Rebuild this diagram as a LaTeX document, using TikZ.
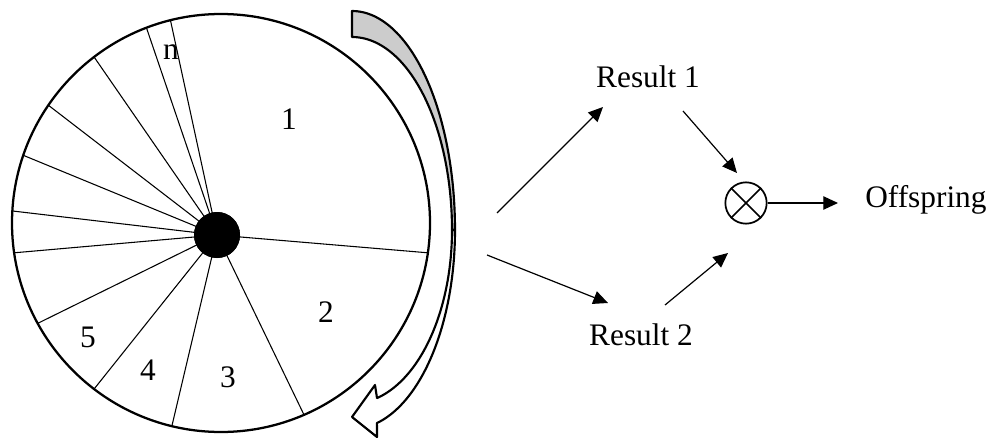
\documentclass[tikz,border=0pt]{standalone}
\usepackage{fontspec}
\setmainfont{Liberation Serif}
\usetikzlibrary{arrows.meta,calc}
\definecolor{bandgray}{RGB}{204,204,204}
\begin{document}
\begin{tikzpicture}[x=0.75pt,y=-0.75pt,
  lbl/.style={font=\fontsize{23.5}{28}\selectfont, inner sep=0pt, anchor=base},
  spoke/.style={line width=0.8pt},
  rim/.style={line width=1.7pt},
  band/.style={line width=1.6pt, line join=round},
  flow/.style={line width=0.9pt,-{Triangle[length=11pt,width=10pt]}},
]
\useasboundingbox (0,0) rectangle (994,438);
% wheel
\coordinate (wc) at (221,223);
\draw[rim] (wc) circle[radius=156.75pt];
\node[circle,fill=black,minimum size=34.5pt,inner sep=0pt] (hub) at (217,235) {};
\foreach \a in {-104,-110.9,-127.4,-145.7,-161.1,-176.7,171.8,151.3,127.4,103.6,66.6,8.2}
  \draw[spoke] (hub.center) -- ({221+209*cos(\a)},{223+209*sin(\a)});
\node[circle,fill=black,minimum size=34.5pt,inner sep=0pt] at (hub) {};
% labels in wheel
\node[lbl] (l1) at (289,130) {1};
\node[lbl] (l2) at (326,322) {2};
\node[lbl] (l3) at (228,387) {3};
\node[lbl] (l4) at (148,380) {4};
\node[lbl] (l5) at (88,347) {5};
\node[lbl] (ln) at (171,60) {n};
% curved arrow: back (gray) part
\filldraw[band, fill=bandgray]
  plot[domain=90:0,samples=60] ({352+103*cos(\x)},{230-219*sin(\x)})
  -- plot[domain=0:90,samples=60] ({352+100*cos(\x)},{230-193*sin(\x)}) -- cycle;
% curved arrow: front (white) part
\filldraw[band, fill=white]
  plot[domain=0:76,samples=60] ({352+103*cos(\x)},{230+199*sin(\x)})
  -- (377,437) -- (352,417) -- (375,385) -- (377,398)
  -- plot[domain=75.5:0,samples=60] ({352+100*cos(\x)},{230+173.6*sin(\x)}) -- cycle;
% right part
\node[lbl] (r1) at (648,88) {Result 1};
\node[lbl] (r2) at (641,345) {Result 2};
\node[lbl,anchor=base west] (off) at (865,208) {Offspring};
\node[circle,draw,line width=1.3pt,minimum size=31pt,inner sep=0pt] (ox) at (746,203) {};
\draw[line width=1.1pt] (ox.45) -- (ox.225) (ox.135) -- (ox.315);
\coordinate (s1) at (497,213);
\coordinate (e1) at (603,107);
\coordinate (s2) at (487,255);
\coordinate (e2) at (608,303);
\coordinate (s3) at (683,111);
\coordinate (e3) at (737,173);
\coordinate (s4) at (665,305);
\coordinate (e4) at (728,253);
\coordinate (e5) at (838,203);
\draw[flow] (s1) -- (e1);
\draw[flow] (s2) -- (e2);
\draw[flow] (s3) -- (e3);
\draw[flow] (s4) -- (e4);
\draw[flow] (ox.east) -- (e5);
\end{tikzpicture}
\end{document}
